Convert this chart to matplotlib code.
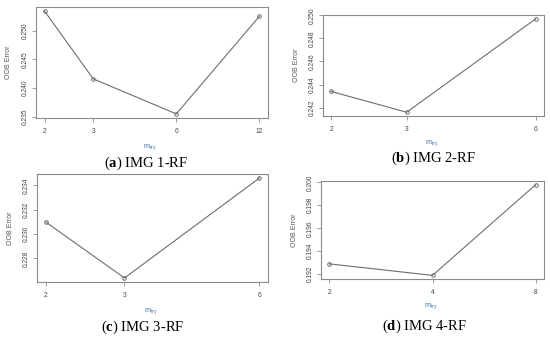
import matplotlib
matplotlib.use("Agg")
import matplotlib.pyplot as plt
import numpy as np

# ---- data ----
mtry_a = [2, 3, 6, 12]
oob_a = [0.2534, 0.2416, 0.2355, 0.2525]
yticks_a = [0.235, 0.240, 0.245, 0.250]

mtry_b = [2, 3, 6]
oob_b = [0.2434, 0.2416, 0.2497]
yticks_b = [0.242, 0.244, 0.246, 0.248, 0.250]

mtry_c = [2, 3, 6]
oob_c = [0.2310, 0.2264, 0.2346]
yticks_c = [0.228, 0.230, 0.232, 0.234]

mtry_d = [2, 4, 8]
oob_d = [0.1929, 0.1919, 0.1998]
yticks_d = [0.192, 0.194, 0.196, 0.198, 0.200]

letters = ["a", "b", "c", "d"]
captions = ["IMG 1-RF", "IMG 2-RF", "IMG 3-RF", "IMG 4-RF"]
ylabel = "OOB Error"

plt.rcParams['mathtext.fontset'] = 'custom'
plt.rcParams['mathtext.rm'] = 'Liberation Serif'
plt.rcParams['mathtext.bf'] = 'Liberation Serif:bold'

W, H = 550, 343
fig = plt.figure(figsize=(5.5, 3.43), dpi=100)
fig.patch.set_facecolor('white')

def px(x, y):
    return x / W, 1 - y / H

# box pixel geometry: left, top, right, bottom
boxes = [(36, 7, 268, 118), (323, 15, 544, 116), (37, 174, 268, 282), (321, 181, 544, 279)]
caption_pos = [(146, 163), (434, 158.5), (143, 327.5), (425, 326.5)]
xlabel_off = [29, 27.5, 29, 27]

series = [(mtry_a, oob_a, yticks_a), (mtry_b, oob_b, yticks_b),
          (mtry_c, oob_c, yticks_c), (mtry_d, oob_d, yticks_d)]

line_col = '#6e6e6e'
box_col = '#8a8a8a'
txt_col = '#444444'
blue = '#3f6fae'

for i, ((xs, ys, yt), (l, t, r, b)) in enumerate(zip(series, boxes)):
    ax = fig.add_axes([l / W, 1 - b / H, (r - l) / W, (b - t) / H])
    ax.plot(xs, ys, color=line_col, lw=0.8, marker='o', ms=2.6, mfc='none',
            mec=line_col, mew=0.7)
    ax.set_xscale('log')
    lx = np.log10(xs)
    rx = lx.max() - lx.min()
    ax.set_xlim(10 ** (lx.min() - 0.04 * rx), 10 ** (lx.max() + 0.04 * rx))
    ry = max(ys) - min(ys)
    ax.set_ylim(min(ys) - 0.04 * ry, max(ys) + 0.04 * ry)
    ax.xaxis.set_minor_locator(matplotlib.ticker.NullLocator())
    ax.set_xticks(xs)
    ax.set_xticklabels([str(v) for v in xs])
    ax.set_yticks(yt)
    ax.set_yticklabels([f"{v:.3f}" for v in yt], rotation=90, va='center')
    for s in ax.spines.values():
        s.set_color(box_col)
        s.set_linewidth(0.8)
    ax.tick_params(axis='both', length=3, width=0.6, color=box_col,
                   labelsize=4.8, labelcolor=txt_col, direction='out')
    ax.tick_params(axis='x', pad=4)
    ax.tick_params(axis='y', pad=2)
    for lab in ax.get_xticklabels() + ax.get_yticklabels():
        lab.set_fontfamily('Liberation Sans')
    # y label
    fig.text(*px(l - 27, (t + b) / 2), ylabel, rotation=90, ha='center', va='center',
             fontsize=5, color='#555555', family='Liberation Sans')
    # x label
    fig.text(*px((l + r) / 2 - 2, b + xlabel_off[i]), r'$\mathregular{m_{try}}$', ha='center',
             va='center', fontsize=5.2, color=blue, family='Liberation Sans')
    cx, cy = caption_pos[i]
    fig.text(*px(cx, cy), r'$\mathrm{(}\mathbf{' + letters[i] + r'}\mathrm{)}$ ' + captions[i],
             ha='center', va='center', fontsize=10.5, color='black',
             family='Liberation Serif')

fig.savefig('out.png', dpi=100, facecolor='white')
